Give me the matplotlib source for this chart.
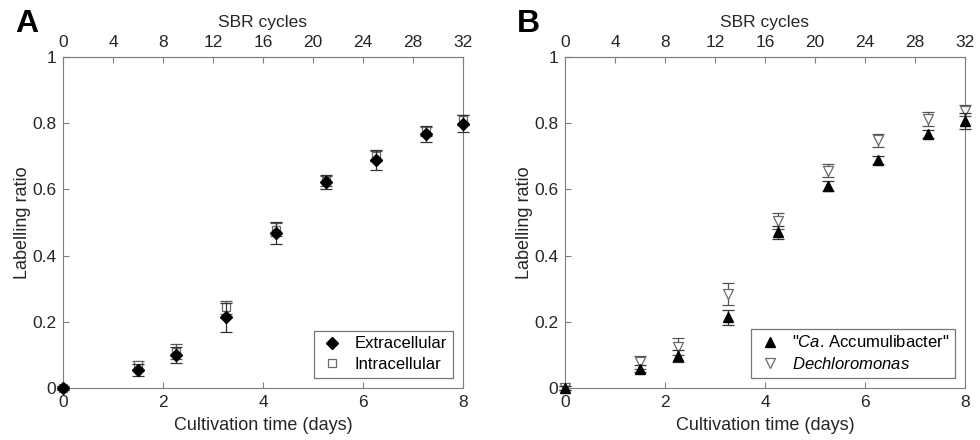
import numpy as np
import matplotlib
matplotlib.use("Agg")
import matplotlib.pyplot as plt

plt.rcParams["font.family"] = ["Liberation Sans", "DejaVu Sans"]
plt.rcParams["mathtext.fontset"] = "custom"
plt.rcParams["mathtext.it"] = "Liberation Sans:italic"
plt.rcParams["mathtext.rm"] = "Liberation Sans"

# cultivation time (days); SBR cycles = 4 * days
days = [0, 1.5, 2.25, 3.25, 4.25, 5.25, 6.25, 7.25, 8]

# panel A
extra = [0.0, 0.054, 0.100, 0.213, 0.469, 0.622, 0.689, 0.767, 0.798]
extra_err = [0.005, 0.017, 0.025, 0.045, 0.033, 0.022, 0.030, 0.025, 0.026]
intra = [0.0, 0.068, 0.110, 0.244, 0.478, 0.625, 0.702, 0.776, 0.810]
intra_err = [0.005, 0.014, 0.022, 0.020, 0.020, 0.015, 0.015, 0.014, 0.014]

# panel B
accu = [0.0, 0.058, 0.098, 0.213, 0.470, 0.610, 0.690, 0.766, 0.806]
accu_err = [0.005, 0.010, 0.018, 0.022, 0.020, 0.016, 0.012, 0.012, 0.024]
dech = [0.0, 0.078, 0.125, 0.284, 0.505, 0.656, 0.748, 0.813, 0.838]
dech_err = [0.005, 0.020, 0.025, 0.032, 0.024, 0.020, 0.020, 0.020, 0.016]

FS = 12.5
frame = "#7f7f7f"
txt = "#262626"

fig = plt.figure(figsize=(9.8, 4.4), dpi=100)
axA = fig.add_axes([63 / 980, 52 / 440, 400 / 980, 331 / 440])
axB = fig.add_axes([565 / 980, 52 / 440, 400 / 980, 331 / 440])


def style(ax, letter, xoff):
    ax.set_xlim(0, 8)
    ax.set_ylim(0, 1)
    ax.set_xticks([0, 2, 4, 6, 8])
    ax.set_yticks([0, 0.2, 0.4, 0.6, 0.8, 1])
    ax.set_yticklabels(["0", "0.2", "0.4", "0.6", "0.8", "1"])
    ax.tick_params(direction="in", length=4, color=frame, labelsize=FS,
                   labelcolor=txt, pad=5)
    for s in ax.spines.values():
        s.set_color(frame)
    ax.set_xlabel("Cultivation time (days)", fontsize=FS + 0.5, color=txt, labelpad=5)
    ax.set_ylabel("Labelling ratio", fontsize=FS + 0.5, color=txt, labelpad=1)
    top = ax.secondary_xaxis("top", functions=(lambda x: x * 4, lambda x: x / 4))
    top.set_xticks(range(0, 33, 4))
    top.tick_params(direction="in", length=4, color=frame, labelsize=FS,
                    labelcolor=txt, pad=5)
    top.spines["top"].set_color(frame)
    top.set_xlabel("SBR cycles", fontsize=FS, color=txt, labelpad=6)
    fig.text(xoff, 0.945, letter, fontsize=23, fontweight="bold", ha="left", va="center")


def legend(ax, handles, labels):
    leg = ax.legend([h[0] for h in handles], labels, loc="lower right", fontsize=12,
                    frameon=True, fancybox=False, edgecolor="#555555",
                    handletextpad=0.6, borderaxespad=0.6, handlelength=1.5,
                    borderpad=0.35, labelspacing=0.35)
    leg.get_frame().set_linewidth(0.9)


# panel A
eI = axA.errorbar(days, intra, yerr=intra_err, fmt="s", ms=6, mfc="white", mec="#6a6a6a",
                  mew=0.9, ecolor="#555555", elinewidth=0.9, capsize=4, capthick=0.9,
                  zorder=3, clip_on=False)
eE = axA.errorbar(days, extra, yerr=extra_err, fmt="D", ms=6.5, color="black",
                  ecolor="#333333", elinewidth=0.9, capsize=4, capthick=0.9,
                  zorder=4, clip_on=False)
style(axA, "A", 15 / 980)
legend(axA, [eE, eI], ["Extracellular", "Intracellular"])

# panel B
eD = axB.errorbar(days, dech, yerr=dech_err, fmt="v", ms=7, mfc="white", mec="#6a6a6a",
                  mew=0.9, ecolor="#555555", elinewidth=0.9, capsize=4, capthick=0.9,
                  zorder=3, clip_on=False)
eA = axB.errorbar(days, accu, yerr=accu_err, fmt="^", ms=7, color="black",
                  ecolor="#333333", elinewidth=0.9, capsize=4, capthick=0.9,
                  zorder=4, clip_on=False)
style(axB, "B", 517 / 980)
legend(axB, [eA, eD], ["\"$\\it{Ca}$. Accumulibacter\"", "$\\it{Dechloromonas}$"])

fig.savefig("out.png", dpi=100)
